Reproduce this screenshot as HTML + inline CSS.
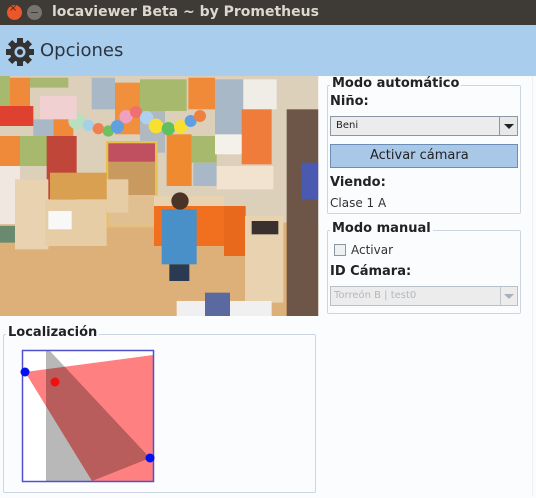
<!DOCTYPE html>
<html><head><meta charset="utf-8"><style>
*{margin:0;padding:0;box-sizing:border-box}
body{width:536px;height:498px;overflow:hidden;background:#fbfcfd;font-family:"DejaVu Sans","Liberation Sans",sans-serif;position:relative}
.a{position:absolute}
.title{left:0;top:0;width:536px;height:25px;background:#3e3b36}
.tb{left:0;top:25px;width:536px;height:51px;background:#a9cdec}
.gb{border:1px solid #cdd6e0;border-radius:2px}
.lg{background:#fbfcfd;font-weight:bold;font-size:13px;color:#222;padding:0 2px;line-height:14px}
.b{font-weight:bold;font-size:13px;color:#222}
.n{font-size:12px;color:#333}
</style></head><body>
<div class="a title"></div>
<div class="a" style="left:7px;top:5px;width:15px;height:15px;border-radius:50%;background:#e9572b"></div>
<div class="a" style="left:9px;top:3px;font-size:10px;color:#5a2010;">×</div>
<div class="a" style="left:27px;top:5px;width:15px;height:15px;border-radius:50%;background:#77746d"></div>
<div class="a" style="left:31px;top:12px;width:7px;height:1px;background:#3e3b36"></div>
<div class="a" style="left:52px;top:4px;font-size:14px;font-weight:bold;color:#dcd8cf">locaviewer Beta ~ by Prometheus</div>
<div class="a tb"></div>
<svg class="a" style="left:5px;top:37px" width="30" height="30" viewBox="-15 -15 30 30">
<g fill="#333">
<circle r="10"/>
<rect x="-3" y="-14" width="6" height="28"/>
<rect x="-3" y="-14" width="6" height="28" transform="rotate(45)"/>
<rect x="-3" y="-14" width="6" height="28" transform="rotate(90)"/>
<rect x="-3" y="-14" width="6" height="28" transform="rotate(135)"/>
</g><circle r="5.5" fill="#a9cdec"/><circle r="3" fill="#333"/></svg>
<div class="a" style="left:40px;top:40px;font-size:18px;color:#2b3542">Opciones</div>

<svg class="a" style="left:0;top:76px" width="320" height="244" viewBox="0 0 960 732">
<rect x="0" y="0" width="955" height="720" fill="#ddd0bb"/>
<rect x="30" y="5" width="60" height="85" fill="#ee8a3a"/>
<rect x="90" y="5" width="115" height="30" fill="#a9b870"/>
<rect x="275" y="5" width="70" height="95" fill="#a9b8c6"/>
<rect x="345" y="20" width="75" height="155" fill="#f0903c"/>
<rect x="420" y="10" width="140" height="95" fill="#a6b96c"/>
<rect x="565" y="5" width="80" height="95" fill="#f08a38"/>
<rect x="645" y="10" width="85" height="170" fill="#a9b8c6"/>
<rect x="730" y="10" width="100" height="90" fill="#f0ece6"/>
<rect x="725" y="100" width="90" height="165" fill="#f07c3c"/>
<rect x="575" y="180" width="75" height="80" fill="#a6b96c"/>
<rect x="500" y="175" width="75" height="155" fill="#f08a30"/>
<rect x="580" y="260" width="70" height="70" fill="#a9b8c6"/>
<rect x="420" y="105" width="75" height="125" fill="#b0b8c0"/>
<rect x="60" y="180" width="90" height="90" fill="#a6b96c"/>
<rect x="0" y="180" width="60" height="90" fill="#ee8a3a"/>
<rect x="160" y="110" width="60" height="80" fill="#ee8a3a"/>
<rect x="100" y="130" width="60" height="50" fill="#a9b8c6"/>
<rect x="650" y="270" width="170" height="70" fill="#f2e2d0"/>
<rect x="645" y="175" width="80" height="60" fill="#f4f0ea"/>
<rect x="0" y="0" width="30" height="90" fill="#a6b96c"/>
<rect x="0" y="440" width="955" height="290" fill="#dcb078"/>
<rect x="318" y="195" width="155" height="260" fill="#e8c24a"/>
<rect x="325" y="202" width="140" height="155" fill="#c89a60"/>
<rect x="325" y="357" width="140" height="95" fill="#e0c090"/>
<rect x="325" y="202" width="140" height="55" fill="#c05060"/>
<rect x="0" y="270" width="60" height="175" fill="#f0e8e0"/>
<rect x="0" y="450" width="55" height="50" fill="#6a8a70"/>
<rect x="140" y="180" width="90" height="200" fill="#c0463a"/>
<rect x="45" y="310" width="100" height="210" fill="#e8d2b0"/>
<rect x="135" y="370" width="185" height="140" fill="#e6cda6"/>
<rect x="145" y="405" width="70" height="55" fill="#f8f8f8"/>
<rect x="320" y="310" width="65" height="100" fill="#e6cda6"/>
<rect x="150" y="290" width="170" height="80" fill="#d8a050"/>
<rect x="462" y="390" width="210" height="120" fill="#f07020"/>
<rect x="462" y="360" width="210" height="30" fill="#e8d2b0"/>
<rect x="672" y="390" width="65" height="150" fill="#e8681c"/>
<rect x="735" y="420" width="115" height="260" fill="#e8d2b0"/>
<rect x="755" y="435" width="80" height="40" fill="#3a3030"/>
<rect x="860" y="100" width="95" height="620" fill="#6d5548"/>
<rect x="905" y="260" width="50" height="110" fill="#4a5ab0"/>
<g>
<circle cx="230" cy="135" r="25" fill="#b8e0c0"/><circle cx="265" cy="148" r="17" fill="#a6d0e8"/>
<circle cx="295" cy="158" r="17" fill="#f08050"/><circle cx="325" cy="165" r="17" fill="#70c060"/>
<circle cx="352" cy="152" r="20" fill="#60a0e0"/><circle cx="378" cy="122" r="20" fill="#f0a0c0"/>
<circle cx="408" cy="108" r="18" fill="#f07070"/><circle cx="440" cy="125" r="20" fill="#b0d0f0"/>
<circle cx="468" cy="150" r="22" fill="#f8e030"/><circle cx="505" cy="158" r="20" fill="#60c060"/>
<circle cx="542" cy="152" r="20" fill="#f8e030"/><circle cx="572" cy="135" r="18" fill="#60a0e0"/>
<circle cx="600" cy="120" r="18" fill="#f08040"/>
<rect x="0" y="90" width="100" height="60" fill="#e04030"/>
<rect x="120" y="60" width="110" height="70" fill="#f0d0d0"/>
</g>
<rect x="485" y="400" width="105" height="165" fill="#4a90c8"/>
<circle cx="540" cy="375" r="26" fill="#4a3428"/>
<rect x="508" y="565" width="60" height="50" fill="#2a3a50"/>
<rect x="530" y="675" width="285" height="45" fill="#f0f0f0"/>
<rect x="615" y="650" width="75" height="70" fill="#5a6aa0"/>
<rect x="0" y="720" width="960" height="12" fill="#fbfcfd"/>
<rect x="955" y="0" width="5" height="732" fill="#fbfcfd"/>
</svg>

<!-- Modo automatico -->
<div class="a gb" style="left:327px;top:85px;width:194px;height:129px"></div>
<div class="a lg" style="left:330px;top:77px">Modo automático</div>
<div class="a b" style="left:330px;top:94px">Niño:</div>
<div class="a" style="left:330px;top:116px;width:188px;height:20px;border:1px solid #8a96a4;background:#ececec"></div>
<div class="a" style="left:499px;top:117px;width:18px;height:18px;border-left:1px solid #8a96a4;background:#e6e8ea"></div>
<div class="a" style="left:504px;top:124px;width:0;height:0;border-left:5px solid transparent;border-right:5px solid transparent;border-top:5px solid #222"></div>
<div class="a" style="left:336px;top:120px;font-size:10px;color:#222">Beni</div>
<div class="a" style="left:330px;top:144px;width:188px;height:24px;border:1px solid #6d8eb4;background:#a9c8e8"></div>
<div class="a" style="left:370px;top:148px;font-size:13px;color:#222;font-weight:500">Activar cámara</div>
<div class="a b" style="left:330px;top:175px">Viendo:</div>
<div class="a n" style="left:330px;top:196px">Clase 1 A</div>

<!-- Modo manual -->
<div class="a gb" style="left:327px;top:230px;width:194px;height:84px"></div>
<div class="a lg" style="left:330px;top:222px">Modo manual</div>
<div class="a" style="left:334px;top:244px;width:12px;height:12px;border:1px solid #8a96a4;background:#eef0f2"></div>
<div class="a n" style="left:351px;top:243px">Activar</div>
<div class="a b" style="left:330px;top:264px">ID Cámara:</div>
<div class="a" style="left:330px;top:286px;width:188px;height:20px;border:1px solid #b8c0c8;background:#ececec"></div>
<div class="a" style="left:500px;top:287px;width:17px;height:18px;border-left:1px solid #c0c6cc"></div>
<div class="a" style="left:504px;top:294px;width:0;height:0;border-left:5px solid transparent;border-right:5px solid transparent;border-top:5px solid #a8b0b8"></div>
<div class="a" style="left:334px;top:290px;font-size:10px;color:#b0b8c0">Torreón B | test0</div>

<!-- Localizacion -->
<div class="a gb" style="left:3px;top:334px;width:313px;height:159px"></div>
<div class="a lg" style="left:6px;top:326px">Localización</div>
<svg class="a" style="left:0;top:340px" width="170" height="150" viewBox="0 340 170 150">
<rect x="22" y="350" width="131" height="131" fill="#fff"/>
<polygon points="46,350 49,350 150,458 92,481 46,481" fill="#b8b8b8"/>
<polygon points="25,372 153,355 153,481 92,481" fill="#ff8080" style="mix-blend-mode:multiply"/>
<rect x="22.5" y="350.5" width="131" height="131" fill="none" stroke="#5050d0" stroke-width="1.5"/>
<circle cx="25" cy="372" r="4.5" fill="#0010f0"/>
<circle cx="150" cy="458" r="4.5" fill="#0010f0"/>
<circle cx="55" cy="382" r="4.5" fill="#f01010"/>
</svg>
<div class="a" style="left:532px;top:76px;width:1px;height:420px;background:#eef1f4"></div>
</body></html>
